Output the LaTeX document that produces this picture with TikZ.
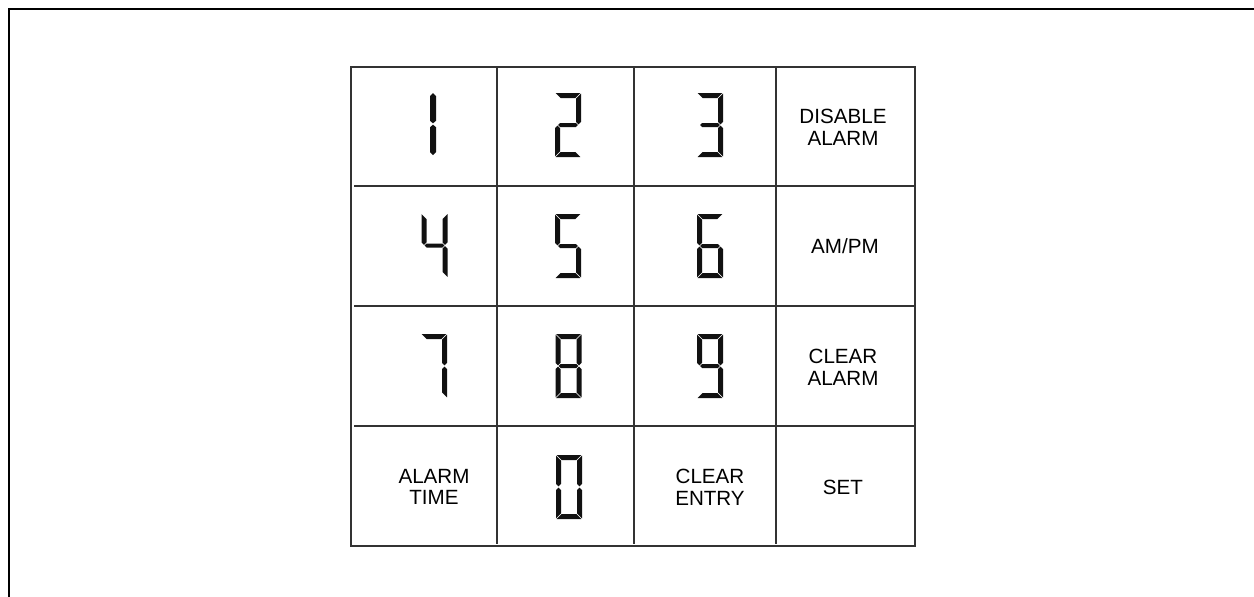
\documentclass[tikz,border=0pt]{standalone}
\usepackage{fontspec}
\setmainfont{Liberation Sans}
\usetikzlibrary{positioning}
\definecolor{ink}{HTML}{111111}
\definecolor{rule}{HTML}{333333}

% one lcd digit: centre (#1,#2), list of segments #3
\newcommand{\lcd}[3]{\foreach \s in {#3}{\fill[ink,shift={(#1,#2)},seg \s];}}

\tikzset{
  seg a/.style={insert path={(-12.3,-32)--(12.3,-32)--(7.3,-27)--(-7.3,-27)--cycle}},
  seg d/.style={insert path={(-12.3,32)--(12.3,32)--(7.3,27)--(-7.3,27)--cycle}},
  seg f/.style={insert path={(-13,-31.3)--(-8,-26.3)--(-8,-3.2)--(-10.5,-.7)--(-13,-3.2)--cycle}},
  seg e/.style={insert path={(-13,31.3)--(-8,26.3)--(-8,3.2)--(-10.5,.7)--(-13,3.2)--cycle}},
  seg b/.style={insert path={(13,-31.3)--(8,-26.3)--(8,-3.2)--(10.5,-.7)--(13,-3.2)--cycle}},
  seg c/.style={insert path={(13,31.3)--(8,26.3)--(8,3.2)--(10.5,.7)--(13,3.2)--cycle}},
  seg g/.style={insert path={(-9.8,0)--(-7.8,-2)--(7.8,-2)--(9.8,0)--(7.8,2)--(-7.8,2)--cycle}},
  % narrow bars of the one
  seg p/.style={insert path={(0,-31)--(3,-28)--(3,-3.2)--(0,-.7)--(-3,-3.2)--(-3,-28)--cycle}},
  seg q/.style={insert path={(0,31)--(3,28)--(3,3.2)--(0,.7)--(-3,3.2)--(-3,28)--cycle}}
}

\begin{document}
\begin{tikzpicture}[x=.5pt,y=-.5pt,
  frame/.style={draw=black,line width=1pt},
  grid/.style={draw=rule,line width=.65pt},
  lbl/.style={align=center,inner sep=0pt,font=\fontsize{10.3}{10.9}\selectfont}]
\useasboundingbox (0,0) rectangle (1254,596);
\draw[frame] (1260,9)--(9,9)--(9,600);
% keypad
\draw[grid] (351,67) rectangle (915,546);
\foreach \x in {497,634,776}{\draw[grid] (\x,67)--(\x,544);}
\foreach \y in {186,306,426}{\draw[grid] (354,\y)--(915,\y);}
% digit keys
\lcd{433}{124}{p,q}
\lcd{568}{125}{a,b,g,e,d}
\lcd{710}{125}{a,b,g,c,d}
\lcd{434.5}{245.5}{f,g,b,c}
\lcd{568}{246}{a,f,g,c,d}
\lcd{710}{246}{a,f,g,e,c,d}
\lcd{434}{366}{a,b,c}
\lcd{568.5}{366}{a,b,c,d,e,f,g}
\lcd{710}{366}{a,b,c,d,f,g}
\lcd{569}{487}{a,b,c,d,e,f}
% word keys
\node[lbl] (dis) at (843,127) {DISABLE\\ALARM};
\node[lbl] (ampm) at (845,246) {AM/PM};
\node[lbl] (clr) at (843,367) {CLEAR\\ALARM};
\node[lbl] (alm) at (434,487) {ALARM\\TIME};
\node[lbl] (ent) at (710,487) {CLEAR\\ENTRY};
\node[lbl] (set) at (843,487) {SET};
\end{tikzpicture}
\end{document}
